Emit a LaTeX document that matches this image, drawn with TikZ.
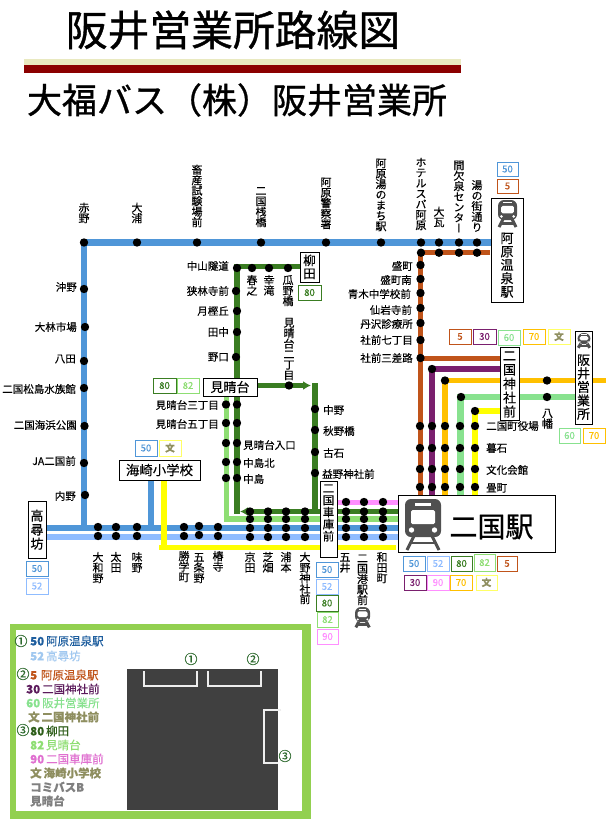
\documentclass[tikz,border=0pt]{standalone}
\usepackage{fontspec}
\setmainfont{Noto Sans CJK JP}[RawFeature={embolden=0.25}]
\newfontfamily\vjp[RawFeature={+vert;embolden=0.25}]{Noto Sans CJK JP}
\newfontfamily\ttlfont[RawFeature={embolden=0.9}]{Noto Sans CJK JP}
\usetikzlibrary{arrows.meta}
\pgfdeclarelayer{lines}
\pgfsetlayers{lines,main}
\definecolor{cblue}{HTML}{4F96D8}
\definecolor{clight}{HTML}{8FBCFF}
\definecolor{cdgreen}{HTML}{3A7D22}
\definecolor{clgreen}{HTML}{8EDE73}
\definecolor{cmint}{HTML}{88E28F}
\definecolor{cyellow}{HTML}{FFFF00}
\definecolor{corange}{HTML}{FFC000}
\definecolor{cbrown}{HTML}{C0541A}
\definecolor{cpurple}{HTML}{7A1F6E}
\definecolor{cpink}{HTML}{FF8FFF}
\definecolor{cbun}{HTML}{8F8F60}
\definecolor{cbunbox}{HTML}{FFFF66}
\definecolor{ctrain}{HTML}{505050}
\definecolor{cpale}{HTML}{E9E9C0}
\definecolor{cdred}{HTML}{8B0000}
\definecolor{cframe}{HTML}{92D050}
\definecolor{cmapbg}{HTML}{404040}
\definecolor{cbracket}{HTML}{EEEEEE}
\definecolor{ccirc}{HTML}{2F6B2F}
\definecolor{clegblue}{HTML}{1F5F9F}
\definecolor{clegsky}{HTML}{A0C8F0}
\definecolor{clegpurple}{HTML}{5B1A5B}
\definecolor{clegdg}{HTML}{2F5F1A}
\definecolor{clegpink}{HTML}{E070D0}
\makeatletter
\newcommand\vlabi[3]{\vbox{\offinterlineskip\vjp\fontsize{#1}{#2}\selectfont
  \@tfor\vch:=#3\do{\hbox to #1pt{\hss\vrule width 0pt height 0.86\dimexpr#2pt\relax depth 0.14\dimexpr#2pt\relax\smash{\vch}\hss}}}}
\makeatother
\newcommand\vlab[3]{\vlabi{#1}{#2}{#3}}
\newcommand\vs[1]{\edef\vtmp{#1}\expandafter\vlabi\expandafter{\expandafter1\expandafter1\expandafter}\expandafter{\expandafter1\expandafter0\expandafter.\expandafter5\expandafter}\expandafter{\vtmp}}
\tikzset{
  x=1pt,y=-1pt,
  stopdot/.style={circle,fill=black,minimum size=8.4pt,inner sep=0pt},
  lab/.style={inner sep=0pt,font=\fontsize{10.5}{11}\selectfont},
  vl/.style={inner sep=0pt},
  boxed/.style={draw=black,line width=1pt,fill=white,inner sep=0pt,align=center},
  tagbox/.style={line width=1pt,fill=white,inner sep=0pt,font=\fontsize{9.5}{10}\selectfont},
  legend/.style={inner sep=0pt,anchor=west,font=\fontsize{11.5}{12}\selectfont},
  circnum/.style={inner sep=0pt,text=ccirc,font=\fontsize{13}{13}\selectfont},
  bracket/.style={draw=cbracket,line width=1.6pt},
  train/.pic={
    \fill[ctrain,rounded corners=6pt] (0,0) rectangle (36,38);
    \fill[white] (10,4) rectangle (26,6.5);
    \fill[white,rounded corners=1.5pt] (6,11) rectangle (30,25);
    \fill[white] (6.5,31) circle (2.7pt) (29.5,31) circle (2.7pt);
    \draw[ctrain,line width=3pt] (9,37) -- (2,51) (27,37) -- (34,51);
    \draw[ctrain,line width=2.4pt] (6,44) -- (30,44);
  }
}
\newcommand\tg[7]{\node[tagbox,draw=#2,text=#2,minimum width=#5pt-#3pt,minimum height=#6pt-#4pt] (#1) at ({(#3+#5)/2},{(#4+#6)/2}) {#7};}
\newcommand\lgd[6]{\node[legend,text=#4] (#1) at (#2,#3) {\textbf{#5}\,#6};}
\newcommand\stopat[3]{\node[stopdot] (#1) at (#2,#3) {};}
\begin{document}
\begin{tikzpicture}
\useasboundingbox (0,0) rectangle (606,822);

% title
\node[inner sep=0pt,font=\ttlfont\fontsize{41.8}{42}\selectfont] (title) at (233,30) {阪井営業所路線図};
\fill[cpale] (24,59) rectangle (461,65);
\fill[cdred] (24,65) rectangle (461,73);
\node[inner sep=0pt,font=\ttlfont\fontsize{35}{36}\selectfont] (subtitle) at (237,100) {大福バス（株）阪井営業所};

% boxes
\node[boxed,minimum width=32pt,minimum height=104pt] (bAhara) at (507,250) {};
\node[inner sep=0pt] (lAhara) at (507,265) {\vlab{13}{13.4}{阿原温泉駅}};
\pic[scale=.53] at (498,200) {train};
\node[boxed,minimum width=17pt,minimum height=93pt] (bSakai) at (583.5,377.5) {};
\node[inner sep=0pt] (lSakai) at (583.5,387) {\vlab{13}{13.5}{阪井営業所}};
\pic[xscale=.36,yscale=.29] at (577.5,333) {train};
\node[boxed,minimum width=19pt,minimum height=73pt] (bJinja) at (509.5,383.5) {\vlab{13}{14}{二国神社前}};
\node[boxed,minimum width=19pt,minimum height=30pt] (bYanagi) at (309.5,267) {\vlab{12.5}{13}{柳田}};
\node[boxed,minimum width=54pt,minimum height=18pt,font=\fontsize{13}{14}\selectfont] (bMiharu) at (230,387) {見晴台};
\node[boxed,minimum width=81pt,minimum height=20pt,font=\fontsize{13.4}{14}\selectfont] (bUmi) at (159.5,470) {海崎小学校};
\node[boxed,minimum width=18pt,minimum height=57pt] (bTaka) at (37,529.5) {\vlab{13}{14}{高尋坊}};
\node[boxed,minimum width=17pt,minimum height=76pt] (bShako) at (328.5,519) {};
\node[inner sep=0pt,anchor=north] (lShako) at (328.5,482) {\vlab{11.5}{12}{二国車庫前}};
\node[boxed,minimum width=157pt,minimum height=57pt] (bEki) at (476.5,523.5) {};
\pic at (405,499) {train};
\node[inner sep=0pt,font=\ttlfont\fontsize{28}{30}\selectfont] (lEki) at (491.5,527) {二国駅};

% tags
\tg{t1}{cblue}{497}{162}{518}{176}{50}
\tg{t2}{cbrown}{497}{179}{518}{193}{5}
\tg{t3}{cdgreen}{298}{285}{321}{300}{80}
\tg{t4}{cdgreen}{153}{378}{176}{393}{80}
\tg{t5}{clgreen}{177}{378}{199}{393}{82}
\tg{t6}{cblue}{135}{440}{157}{456}{50}
\tg{t7}{cbunbox}{159}{440}{181}{456}{\textcolor{cbun}{\textbf{文}}}
\tg{t8}{cblue}{26}{561}{48}{576}{50}
\tg{t9}{clight}{26}{578}{48}{594}{52}
\tg{t10}{cbrown}{449}{329}{471}{344}{5}
\tg{t11}{cpurple}{473}{329}{496}{344}{30}
\tg{t12}{cmint}{498}{330}{520}{345}{60}
\tg{t13}{corange}{523}{329}{545}{344}{70}
\tg{t14}{cbunbox}{548}{329}{570}{344}{\textcolor{cbun}{\textbf{文}}}
\tg{t15}{cmint}{559}{428}{580}{443}{60}
\tg{t16}{corange}{583}{428}{605}{443}{70}
\tg{t17}{cblue}{316}{562}{338}{577}{50}
\tg{t18}{clight}{316}{579}{338}{594}{52}
\tg{t19}{cdgreen}{316}{595}{338}{611}{80}
\tg{t20}{clgreen}{317}{612}{338}{627}{82}
\tg{t21}{cpink}{317}{629}{338}{644}{90}
\tg{t22}{cblue}{403}{556}{425}{571}{50}
\tg{t23}{clight}{427}{556}{449}{571}{52}
\tg{t24}{cdgreen}{451}{556}{472}{571}{80}
\tg{t25}{clgreen}{474}{554}{495}{571}{82}
\tg{t26}{cbrown}{497}{556}{517}{571}{5}
\tg{t27}{cpurple}{404}{575}{426}{590}{30}
\tg{t28}{cpink}{427}{575}{449}{590}{90}
\tg{t29}{corange}{450}{575}{472}{590}{70}
\tg{t30}{cbunbox}{476}{575}{497}{590}{\textcolor{cbun}{\textbf{文}}}
\pic[xscale=.42,yscale=.4] at (355,607) {train};

% stops: top line
\foreach \n/\x in {akano/84,oura/137,chikusan/197,sanbashi/261,keisatsu/326,yumachi/381,hotel/421,okawara/439,kanketsu/459,yutori/477}
  {\stopat{\n}{\x}{242.5}}
\foreach \n/\x in {bhotel/421,bokawara/439,bkanketsu/459,byutori/477}
  {\stopat{\n}{\x}{252.7}}
% left line
\foreach \n/\x/\y in {okino/84/289,obayashi/85/327,hatta/84/361,matsushima/84/388,kaihin/84.5/426,ja/84/463,uchino/85/495}
  {\stopat{\n}{\x}{\y}}
% green line 80
\foreach \n/\x/\y in {nakayama/237/268,harunoyuki/252/268,kouryu/269/268,urino/288/268,sakibayashi/236/291,tsuki/237/311,tanaka/237/332,noguchi/236/357,mnichome/289/385.5,
  nakano/315/409,akino/315/430,furuishi/315/452,masuno/315/473}
  {\stopat{\n}{\x}{\y}}
% 80 and 82 pairs
\foreach \n/\y in {sanchome/404.5,gochome/423,iriguchi/443,kita/462,nakajima/478}
  {\stopat{\n-dg}{237}{\y}\stopat{\n-lg}{226}{\y}}
% bottom rows
\foreach \n/\x/\a/\b in {yamato/98/527/536,ota/116/527/536,ajino/137/527/536,shogaku/184/527/536,gojono/199/526/535,tsubaki/218/527/536}
  {\stopat{\n-a}{\x}{\a}\stopat{\n-b}{\x}{\b}}
\foreach \n/\x in {kyoden/250,shiba/268,uramoto/286,ono/305}
  {\stopat{\n-g}{\x}{511.5}\stopat{\n-l}{\x}{519}\stopat{\n-a}{\x}{528}\stopat{\n-b}{\x}{537}}
\foreach \n/\x in {goi/346,minato/364,wada/383}
  {\stopat{\n-p}{\x}{502}\stopat{\n-g}{\x}{511.5}\stopat{\n-l}{\x}{519}\stopat{\n-a}{\x}{528}\stopat{\n-b}{\x}{537}}
% right trunk
\foreach \n/\y in {morimachi/265,morimachis/279,aoki/293,sengan/308,tanzawa/323,nana/340,sansaro/358}
  {\stopat{\n}{420.5}{\y}}
\stopat{pur}{432}{369}
\stopat{ora}{445}{380.5}
\stopat{min}{461}{397}
\stopat{yel}{475}{411}
\stopat{ohata}{547}{380.5}
\stopat{yawata}{547}{397}
\foreach \n/\y in {yakuba/426,goishi/448,bunka/469,tatami/487}
  {\stopat{\n-br}{420}{\y}\stopat{\n-pu}{432}{\y}\stopat{\n-or}{445}{\y}\stopat{\n-mi}{460}{\y}\stopat{\n-ye}{475}{\y}}

% free ends of the routes
\coordinate (cBlueCorner) at (84,527.5);
\coordinate (cBlueW) at (45,527.5);
\coordinate (cBlueE) at (398,527.5);
\coordinate (cSkyW) at (45,536.5);
\coordinate (cSkyE) at (398,536.5);
\coordinate (cPinkW) at (337,502);
\coordinate (cPinkE) at (398,502);
\coordinate (cDgE) at (398,511.5);
\coordinate (cDgArrow) at (240,511.5);
\coordinate (cDgEnd) at (237,514);
\coordinate (cLgCorner) at (226.5,519);
\coordinate (cLgE) at (398,519);
\coordinate (cYelW) at (159,547.5);
\coordinate (cYelE) at (396,547.5);
\coordinate (cYelTop) at (164,480);
\coordinate (cYelCorner) at (164,547.5);
\coordinate (cBl2Top) at (151,480);
\coordinate (cBl2Bot) at (151,527.5);
\coordinate (cAharaW) at (491,242.5);
\coordinate (cBrTopE) at (490,252.7);
\coordinate (cBrBot) at (420.5,497);
\coordinate (cPuBot) at (432,497);
\coordinate (cOrBot) at (445,497);
\coordinate (cMiBot) at (460.5,497);
\coordinate (cYeBot) at (475,497);
\coordinate (cOrE) at (606,380.5);
\coordinate (cMiE) at (575,397);
\coordinate (cMiharuE) at (257,385.5);
\coordinate (cArrowTip) at (311,385.5);
\coordinate (cShakoTop) at (315,383);
\coordinate (cShakoBot) at (315,511.5);
\coordinate (cYamTop) at (237,266.5);
\coordinate (cYamE) at (300,266.5);

\begin{pgfonlayer}{lines}
 \draw[cblue,line width=6.4pt] (cAharaW) -- (akano.center) -- (cBlueCorner);
 \draw[cblue,line width=6pt] (cBlueW) -- (cBlueE);
 \draw[cblue,line width=6pt] (cBl2Top) -- (cBl2Bot);
 \draw[clight,line width=6pt] (cSkyW) -- (cSkyE);
 \draw[cyellow,line width=6pt] (cYelTop) -- (cYelCorner);
 \draw[cyellow,line width=5pt] (cYelW) -- (cYelE);
 \draw[cpink,line width=5pt] (cPinkW) -- (cPinkE);
 \draw[clgreen,line width=5.5pt] (bMiharu.south -| cLgCorner) -- (cLgCorner) -- (cLgE);
 \draw[cdgreen,line width=5.5pt] (cYamE) -- (cYamTop) -- (cDgEnd);
 \draw[cdgreen,line width=5pt,-{Latex[length=8pt,width=9pt]}] (cDgE) -- (cDgArrow);
 \draw[cdgreen,line width=5pt,-{Latex[length=8pt,width=9pt]}] (cMiharuE) -- (cArrowTip);
 \draw[cdgreen,line width=5.5pt] (cShakoTop) -- (cShakoBot);
 \draw[cbrown,line width=5pt] (cBrTopE) -- (bhotel.center);
 \draw[cbrown,line width=5.6pt] (bhotel.center -| cBrBot) -- (cBrBot);
 \draw[cbrown,line width=5pt] (sansaro.center) -- (bJinja.west |- sansaro.center);
 \draw[cpurple,line width=5.6pt] (bJinja.west |- pur.center) -- (pur.center) -- (cPuBot);
 \draw[corange,line width=5.6pt] (cOrE) -- (ora.center) -- (cOrBot);
 \draw[cmint,line width=6.4pt] (cMiE) -- (min.center |- yawata.center) -- (cMiBot |- yawata.center) -- (cMiBot);
 \draw[cyellow,line width=6.4pt] (bJinja.west |- yel.center) -- (yel.center) -- (cYeBot);
\end{pgfonlayer}

% horizontal labels
\foreach \n/\x/\y/\t in {okino/77/287/沖野,obayashi/77/327/大林市場,hatta/76/359/八田,matsushima/76/389/二国松島水族館,kaihin/77/425/二国海浜公園,ja/76/461/JA二国前,uchino/76/496/内野,
  nakayama/229/266/中山隧道,sakibayashi/229/291/狭林寺前,tsuki/229/311/月樫丘,tanaka/229/332/田中,noguchi/229/357/野口,sanchome/219/405/見晴台三丁目,gochome/219/424/見晴台五丁目,
  morimachi/413/266/盛町,morimachis/412/280/盛町南,aoki/411/294/青木中学校前,sengan/412/310/仙岩寺前,tanzawa/413/324/丹沢診療所,nana/413/340/社前七丁目,sansaro/413/358/社前三差路}
  {\node[lab,anchor=east] (l\n) at (\x,\y) {\t};}
\foreach \n/\x/\y/\t in {iriguchi/243/445/見晴台入口,kita/243/463/中島北,nakajima/243/479/中島,
  nakano/323/410/中野,akino/323/431/秋野橋,furuishi/323/453/古石,masuno/322/474/益野神社前,
  yakuba/486/426/二国町役場,goishi/486/448/暮石,bunka/486/470/文化会館,tatami/486/488/畳町}
  {\node[lab,anchor=west] (l\n) at (\x,\y) {\t};}

% vertical labels above
\foreach \n/\x/\y/\t in {akano/84/224/赤野,oura/137/224/大浦,chikusan/197/228/畜産試験場前,sanbashi/261/228/二国桟橋,keisatsu/326/230/阿原警察署,yumachi/381/232/阿原湯のまち駅,hotel/421/231/ホテルスパ阿原,okawara/439/228/大瓦,kanketsu/459/234/間欠泉センター,yutori/477/233/湯の街通り,mnichome/289/381/見晴台二丁目}
  {\node[vl,anchor=south] (v\n) at (\x,\y) {\vs{\t}};}
% vertical labels below
\foreach \n/\x/\y/\t in {yamato/98/552/大和野,ota/116/552/太田,ajino/137/552/味野,shogaku/184/551/勝学町,gojono/199/552/五条野,tsubaki/218/551/椿寺,kyoden/250/552/京田,shiba/268/552/芝畑,uramoto/286/552/浦本,ono/305/552/大野神社前,goi/345/552/五井,minato/362.5/553/二国港駅前,wada/382/552/和田町,
  haru/252/275/春之,kou/269/275/幸滝,urino/288/275/瓜野橋,yawata/547.5/408/八幡}
  {\node[vl,anchor=north] (v\n) at (\x,\y) {\vs{\t}};}

% legend
\fill[cframe] (10,624) rectangle (311,819);
\fill[white] (16,630) rectangle (302,811);
\fill[cmapbg] (127,669) rectangle (278,810);
\coordinate (a1) at (144,671); \coordinate (a2) at (144,686); \coordinate (a3) at (197,686); \coordinate (a4) at (197,671);
\coordinate (c1) at (208,671); \coordinate (c2) at (208,686); \coordinate (c3) at (261,686); \coordinate (c4) at (261,671);
\coordinate (e1) at (281,710); \coordinate (e2) at (264,710); \coordinate (e3) at (264,763); \coordinate (e4) at (278,763);
\draw[bracket] (a1) -- (a2) -- (a3) -- (a4);
\draw[bracket] (c1) -- (c2) -- (c3) -- (c4);
\draw[bracket] (e1) -- (e2) -- (e3) -- (e4);
\node[circnum] (m1) at (191,659) {①};
\node[circnum] (m2) at (253,659) {②};
\node[circnum] (m3) at (285,756) {③};
\node[circnum] (k1) at (21,641) {①};
\node[circnum] (k2) at (23,674) {②};
\node[circnum] (k3) at (23,730) {③};
\lgd{g1}{30}{641}{clegblue}{50}{阿原温泉駅}
\lgd{g2}{30}{656}{clegsky}{52}{高尋坊}
\lgd{g3}{30}{675}{cbrown}{5}{\,阿原温泉駅}
\lgd{g4}{26}{689}{clegpurple}{30}{二国神社前}
\lgd{g5}{26}{703}{cmint}{60}{阪井営業所}
\lgd{g6}{28}{717}{cbun}{文}{\textbf{二国神社前}}
\lgd{g7}{30}{731}{clegdg}{80}{柳田}
\lgd{g8}{30}{745}{clgreen}{82}{見晴台}
\lgd{g9}{30}{759}{clegpink}{90}{二国車庫前}
\lgd{g10}{30}{773}{cbun}{文}{\textbf{海崎小学校}}
\node[legend,text=gray] (g11) at (30,787) {\textbf{コミバスB}};
\node[legend,text=gray] (g12) at (30,801) {\textbf{見晴台}};
\end{tikzpicture}
\end{document}
